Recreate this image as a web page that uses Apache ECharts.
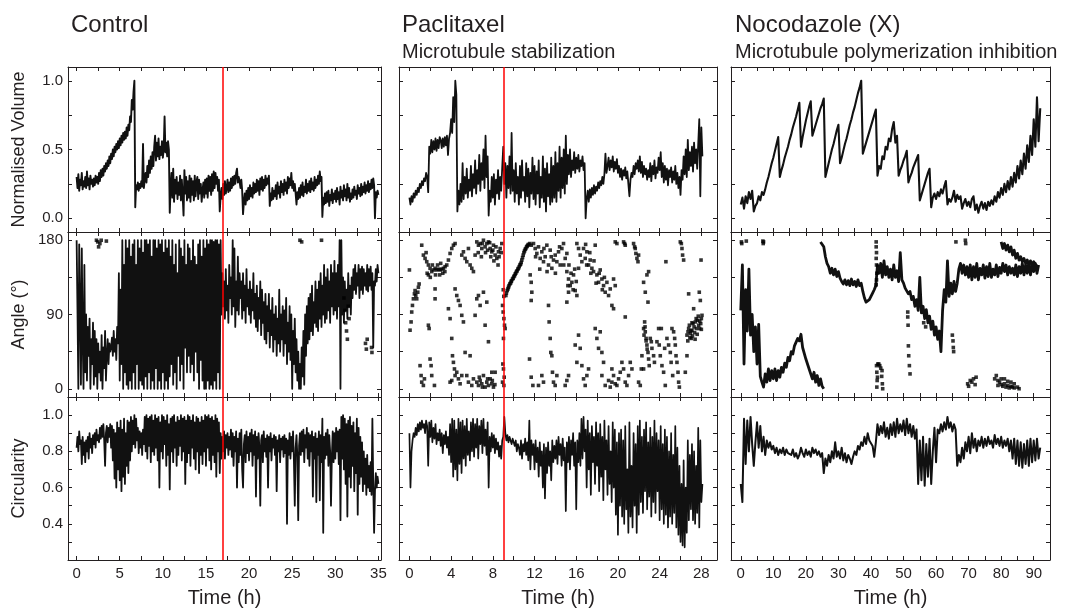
<!DOCTYPE html>
<html>
<head>
<meta charset="utf-8">
<title>Volume, angle and circularity traces</title>
<script src="https://cdn.jsdelivr.net/npm/echarts@6.0.0/dist/echarts.min.js"></script>
<style>
  html, body { margin: 0; padding: 0; background: #fff; }
  #chart { width: 1068px; height: 609px; }
</style>
</head>
<body>
<div id="chart"></div>
<script>
// tick labels
var ctrlTimeLabels = [0, 5, 10, 15, 20, 25, 30, 35];
var ctrlTimeTicks = [0, 2.5, 5, 7.5, 10, 12.5, 15, 17.5, 20, 22.5, 25, 27.5, 30, 32.5, 35];
var pacTimeLabels = [0, 4, 8, 12, 16, 20, 24, 28];
var pacTimeTicks = [0, 2, 4, 6, 8, 10, 12, 14, 16, 18, 20, 22, 24, 26, 28];
var nocTimeLabels = [0, 10, 20, 30, 40, 50, 60, 70, 80, 90];
var nocTimeTicks = [0, 5, 10, 15, 20, 25, 30, 35, 40, 45, 50, 55, 60, 65, 70, 75, 80, 85, 90];
var volLabels = [0, 0.5, 1];
var volTicks = [0, 0.25, 0.5, 0.75, 1];
var angLabels = [0, 90, 180];
var angTicks = [0, 45, 90, 135, 180];
var circLabels = [0.4, 0.6, 0.8, 1.0];
var circTicks = [0.3, 0.4, 0.5, 0.6, 0.7, 0.8, 0.9, 1.0];

// drug addition times (h)
var ctrlMark = 17;
var pacMark = 9;

// Control, sampled every 0.1 h from t = 0
var ctrlStep = 0.1;
var ctrlVol = [
  0.30,0.22,0.32,0.20,0.28,0.24,0.33,0.21,0.27,0.23,
  0.30,0.22,0.34,0.24,0.29,0.21,0.31,0.25,0.28,0.23,
  0.29,0.24,0.31,0.26,0.30,0.25,0.33,0.27,0.35,0.30,
  0.36,0.31,0.38,0.34,0.40,0.36,0.42,0.38,0.45,0.40,
  0.47,0.43,0.50,0.45,0.52,0.48,0.54,0.50,0.56,0.51,
  0.58,0.53,0.60,0.55,0.62,0.57,0.63,0.58,0.66,0.60,
  0.68,0.64,0.74,0.70,0.86,0.79,0.92,1.00,0.08,0.24,
  0.21,0.26,0.20,0.25,0.22,0.27,0.23,0.54,0.22,0.28,
  0.33,0.26,0.38,0.30,0.42,0.33,0.45,0.36,0.48,0.38,
  0.52,0.60,0.42,0.55,0.45,0.58,0.43,0.52,0.46,0.56,
  0.44,0.50,0.74,0.48,0.55,0.45,0.56,0.50,0.04,0.22,
  0.33,0.15,0.36,0.12,0.28,0.18,0.30,0.14,0.26,0.17,
  0.31,0.13,0.28,0.16,0.02,0.35,0.18,0.30,0.13,0.27,
  0.15,0.31,0.12,0.29,0.17,0.27,0.13,0.31,0.16,0.26,
  0.30,0.14,0.28,0.18,0.25,0.12,0.20,0.26,0.15,0.28,
  0.18,0.29,0.15,0.31,0.20,0.30,0.17,0.32,0.20,0.34,
  0.22,0.33,0.25,0.30,0.20,0.28,0.05,0.16,0.22,0.14,
  0.25,0.17,0.27,0.18,0.22,0.28,0.19,0.26,0.20,0.29,
  0.22,0.30,0.24,0.31,0.25,0.33,0.36,0.26,0.30,0.27,
  0.22,0.28,0.20,0.03,0.12,0.18,0.10,0.20,0.13,0.22,
  0.14,0.24,0.16,0.22,0.15,0.26,0.18,0.25,0.19,0.28,
  0.20,0.27,0.17,0.29,0.21,0.30,0.20,0.28,0.22,0.31,
  0.24,0.29,0.25,0.31,0.09,0.18,0.13,0.22,0.14,0.20,
  0.16,0.24,0.14,0.26,0.18,0.23,0.15,0.27,0.19,0.25,
  0.17,0.28,0.20,0.26,0.18,0.30,0.22,0.29,0.24,0.33,
  0.22,0.27,0.20,0.25,0.18,0.10,0.19,0.14,0.22,0.15,
  0.24,0.17,0.26,0.16,0.23,0.19,0.28,0.18,0.25,0.20,
  0.27,0.19,0.29,0.21,0.26,0.20,0.30,0.22,0.28,0.24,
  0.31,0.25,0.34,0.27,0.30,0.01,0.15,0.10,0.18,0.11,
  0.19,0.12,0.20,0.09,0.17,0.13,0.21,0.11,0.18,0.14,
  0.20,0.12,0.22,0.14,0.19,0.10,0.23,0.15,0.20,0.13,
  0.24,0.16,0.21,0.13,0.25,0.15,0.22,0.12,0.18,0.14,
  0.21,0.15,0.23,0.17,0.20,0.14,0.24,0.18,0.22,0.16,
  0.25,0.17,0.23,0.19,0.26,0.18,0.24,0.20,0.27,0.19,
  0.25,0.21,0.28,0.22,0.29,0.24,0.00,0.19,0.15,0.20,
  0.17
];
var ctrlAng = [
  180,95,0,175,100,5,170,60,0,150,
  20,90,10,75,40,85,0,60,30,80,
  5,70,15,60,0,55,20,45,10,65,
  0,50,25,70,10,40,60,30,55,45,
  50,62,40,70,45,60,35,75,55,140,
  10,120,30,180,0,150,20,180,5,170,
  0,180,10,160,0,175,20,180,0,150,
  30,180,0,170,10,180,5,165,0,180,
  15,180,0,175,20,180,0,160,10,180,
  0,180,25,170,0,180,10,175,0,180,
  20,165,0,180,10,170,0,180,15,160,
  30,180,5,150,20,175,0,140,40,180,
  10,170,30,160,0,180,50,150,20,175,
  40,170,20,155,30,180,10,160,45,150,
  20,175,0,180,35,160,10,180,0,170,
  0,180,10,175,0,180,5,180,0,178,
  10,180,0,180,20,175,0,180,90,140,
  100,130,85,145,95,125,80,150,110,135,
  90,180,100,170,75,130,95,160,90,140,
  110,130,85,140,95,125,80,145,100,120,
  90,130,80,120,95,140,85,115,75,125,
  70,110,85,130,65,120,80,105,60,115,
  55,100,70,115,50,95,65,110,45,90,
  60,100,40,85,55,120,45,90,60,100,
  40,95,55,110,30,80,45,100,35,90,
  0,70,30,85,20,60,10,45,0,30,
  0,50,15,70,5,90,40,100,55,110,
  60,115,70,125,65,105,80,130,75,120,
  70,130,85,140,75,125,90,150,80,135,
  85,145,95,130,80,150,100,140,90,155,
  95,140,85,150,100,180,0,180,90,135,
  80,130,95,120,85,140,100,125,90,135,
  110,145,120,150,115,140,125,150,110,145,
  120,148,115,145,125,140,120,150,118,145,
  125,148,120,140,50,130,125,145,130,150,
  140
];
var ctrlAngDots = [
  [2.3,180],[2.45,178],[2.55,172],[2.7,176],[2.85,180],[3.45,179],[25.9,180],[26.1,178],
  [28.4,180],[33.5,55],[33.6,48],[33.7,60],[34.2,50],[34.25,44],[31.0,110],[31.1,95],
  [31.2,80],[31.3,70],[31.4,60],[31.5,100],[31.6,85]
];
var ctrlCirc = [
  0.82,0.88,0.80,0.91,0.84,0.86,0.73,0.88,0.78,0.85,
  0.74,0.86,0.80,0.88,0.76,0.90,0.82,0.87,0.79,0.89,
  0.84,0.90,0.82,0.92,0.86,0.89,0.85,0.93,0.87,0.94,
  0.88,0.95,0.86,0.72,0.90,0.94,0.85,0.93,0.88,0.95,
  0.82,0.94,0.75,0.92,0.65,0.90,0.60,0.96,0.70,0.93,
  0.64,0.97,0.58,0.92,0.66,0.98,0.62,0.90,0.72,0.97,
  0.68,0.96,0.75,0.99,0.80,0.97,0.84,1.00,0.82,0.98,
  0.86,0.93,0.79,0.91,0.82,0.90,0.78,0.92,0.84,0.99,
  0.80,1.00,0.76,0.98,0.83,0.99,0.74,1.00,0.80,0.97,
  0.78,1.00,0.82,0.98,0.75,0.99,0.60,0.96,0.80,1.00,
  0.76,0.99,0.84,0.97,0.72,1.00,0.78,0.95,0.59,0.98,
  0.80,0.99,0.74,1.00,0.82,0.96,0.72,0.99,0.78,0.97,
  0.83,1.00,0.75,0.98,0.80,0.99,0.62,0.97,0.74,1.00,
  0.79,0.99,0.72,0.97,0.82,1.00,0.76,0.96,0.70,0.99,
  0.80,0.98,0.68,0.96,0.78,0.99,0.73,0.97,0.80,1.00,
  0.72,0.99,0.82,1.00,0.75,0.98,0.70,0.99,0.78,0.97,
  0.74,1.00,0.66,0.98,0.80,0.96,0.68,0.90,0.76,0.88,
  0.80,0.91,0.76,0.89,0.82,0.90,0.78,0.88,0.81,0.92,
  0.77,0.90,0.72,0.88,0.80,0.91,0.60,0.87,0.74,0.90,
  0.78,0.92,0.70,0.60,0.84,0.89,0.74,0.91,0.79,0.88,
  0.75,0.90,0.80,0.92,0.72,0.89,0.78,0.91,0.55,0.88,
  0.76,0.90,0.82,0.50,0.86,0.89,0.74,0.91,0.80,0.87,
  0.77,0.89,0.60,0.88,0.80,0.90,0.75,0.87,0.82,0.89,
  0.78,0.88,0.58,0.86,0.80,0.89,0.74,0.87,0.81,0.88,
  0.77,0.89,0.79,0.87,0.40,0.86,0.78,0.90,0.76,0.88,
  0.80,0.91,0.75,0.50,0.82,0.89,0.77,0.42,0.83,0.90,
  0.78,0.91,0.80,0.92,0.74,0.89,0.82,0.93,0.76,0.90,
  0.72,0.89,0.80,0.91,0.55,0.88,0.76,0.90,0.52,0.87,
  0.78,0.91,0.53,0.89,0.74,0.98,0.35,0.88,0.76,0.90,
  0.78,0.92,0.72,0.89,0.80,0.50,0.77,0.91,0.74,0.90,
  0.76,0.93,0.80,0.91,0.73,0.92,0.42,0.99,0.76,1.00,
  0.70,0.98,0.62,0.95,0.44,0.97,0.66,0.99,0.60,0.94,
  0.72,0.96,0.58,0.90,0.68,0.98,0.45,0.93,0.62,0.88,
  0.66,0.85,0.58,0.80,0.62,0.76,0.56,0.78,0.60,0.72,
  0.58,0.74,0.56,0.98,0.62,0.35,0.58,0.68,0.60,0.66,
  0.62
];

// Paclitaxel, sampled every 0.1 h from t = 0
var pacStep = 0.1;
var pacVol = [
  0.15,0.10,0.16,0.12,0.18,0.15,0.20,0.17,0.22,0.19,
  0.25,0.22,0.27,0.24,0.29,0.27,0.33,0.30,0.19,0.52,
  0.47,0.57,0.48,0.56,0.50,0.58,0.49,0.57,0.51,0.59,
  0.57,0.51,0.58,0.52,0.59,0.53,0.60,0.46,0.58,0.62,
  0.72,0.62,0.88,0.70,1.00,0.90,0.05,0.20,0.10,0.25,
  0.12,0.40,0.14,0.30,0.18,0.36,0.15,0.28,0.20,0.38,
  0.16,0.32,0.22,0.42,0.18,0.35,0.25,0.46,0.20,0.40,
  0.28,0.50,0.22,0.60,0.30,0.45,0.02,0.20,0.12,0.30,
  0.15,0.32,0.10,0.28,0.18,0.35,0.14,0.30,0.20,0.37,
  0.52,0.25,0.40,0.15,0.38,0.22,0.45,0.18,0.62,0.20,
  0.35,0.12,0.40,0.18,0.30,0.10,0.38,0.15,0.42,0.20,
  0.30,0.12,0.40,0.16,0.36,0.08,0.33,0.18,0.44,0.14,
  0.38,0.10,0.34,0.18,0.42,0.08,0.30,0.15,0.45,0.12,
  0.36,0.05,0.40,0.16,0.32,0.10,0.44,0.12,0.38,0.15,
  0.48,0.12,0.40,0.20,0.52,0.15,0.44,0.22,0.50,0.18,
  0.60,0.25,0.46,0.32,0.50,0.30,0.42,0.35,0.48,0.33,
  0.44,0.36,0.46,0.34,0.42,0.38,0.45,0.35,0.40,0.00,
  0.14,0.20,0.12,0.21,0.15,0.22,0.17,0.24,0.18,0.23,
  0.20,0.26,0.22,0.27,0.24,0.30,0.25,0.32,0.47,0.33,
  0.38,0.44,0.35,0.42,0.37,0.45,0.34,0.41,0.36,0.43,
  0.33,0.38,0.30,0.36,0.28,0.35,0.31,0.37,0.29,0.34,
  0.25,0.16,0.28,0.33,0.30,0.38,0.32,0.40,0.36,0.42,
  0.34,0.45,0.33,0.41,0.30,0.38,0.32,0.36,0.28,0.35,
  0.30,0.40,0.27,0.38,0.32,0.42,0.29,0.37,0.33,0.44,
  0.35,0.48,0.30,0.40,0.26,0.38,0.28,0.36,0.24,0.35,
  0.30,0.37,0.26,0.34,0.28,0.38,0.25,0.33,0.22,0.30,
  0.17,0.35,0.28,0.45,0.32,0.50,0.30,0.57,0.35,0.48,
  0.38,0.52,0.34,0.55,0.40,0.50,0.36,0.54,0.72,0.16,
  0.66,0.45
];
var pacAngle = [
  [0.0,144],[0.06,71],[0.16,81],[0.22,93],[0.29,101],[0.38,109],[0.48,115],[0.54,119],[0.61,113],[0.7,109],
  [0.8,117],[0.86,123],[0.93,127],[1.02,28],[1.12,16],[1.18,8],[1.18,174],[1.34,4],[1.44,12],
  [1.34,162],[1.5,158],[1.66,154],[1.82,150],[1.82,138],[1.98,146],[2.14,142],[2.3,144],[2.46,146],[2.62,144],
  [2.78,145],[2.94,144],[3.1,145],[3.26,146],[3.42,148],[3.58,150],[3.74,156],[3.9,164],[4.06,170],[4.22,174],[4.38,176],
  [1.6,165],[1.7,140],[2.0,135],[2.2,150],[2.5,138],[2.7,150],[2.9,138],[3.0,152],[3.2,140],[3.4,142],
  [1.82,77],[1.89,73],[1.98,36],[2.08,28],[2.14,16],[2.4,4],[2.46,121],[2.46,109],
  [3.74,97],[3.9,85],[4.06,61],[4.13,40],[4.22,32],[4.32,24],[4.38,16],[3.9,8],[4.06,10],
  [4.38,121],[4.54,113],[4.7,107],[4.86,101],[5.02,89],[5.18,81],[4.54,20],[4.7,12],[4.86,6],[5.02,16],
  [5.02,162],[5.18,166],[5.34,158],[5.5,154],[5.66,170],[5.82,150],[5.98,146],[6.14,142],[6.3,162],
  [5.5,16],[5.66,8],[5.98,4],[6.14,12],[5.82,40],[5.34,44],[6.3,89],[6.46,109],
  [6.46,178],[6.62,174],[6.78,176],[6.94,170],[7.1,180],[7.26,172],[7.42,176],[7.58,178],[7.74,170],[7.9,166],
  [8.06,174],[8.22,162],[8.38,158],[8.54,166],[8.7,170],[8.86,176],
  [6.6,165],[6.9,160],[7.0,176],[7.3,165],[7.5,168],[7.7,177],[7.8,160],[8.0,168],[8.1,155],[8.3,172],
  [8.5,150],[8.6,160],[8.8,165],
  [6.46,8],[6.62,4],[6.78,10],[6.94,6],[7.1,16],[7.26,2],[7.42,8],[7.58,4],[7.74,12],[7.9,6],[8.06,2],
  [6.7,14],[7.0,2],[7.5,12],[7.95,10],[8.2,5],
  [6.62,113],[6.78,101],[7.1,117],[7.42,105],[7.26,77],[7.58,57],[7.9,20],[8.22,20],
  [8.93,101],[8.99,93],[9.06,85],[9.12,77],[9.18,73],[9.02,61],[8.96,30],[9.02,24],[9.09,14],[8.93,8],
  [9.06,4],[9.0,120],[9.05,112],
  [9.25,113],[9.38,119],[9.5,123],[9.63,127],[9.76,130],[9.89,133],[10.02,136],[10.14,139],[10.27,142],
  [10.4,145],[10.53,148],[10.66,151],[10.78,156],[10.91,162],[11.04,167],[11.17,170],[11.3,173],[11.42,175],
  [11.55,176],[11.68,174],
  [9.3,116],[9.45,121],[9.55,125],[9.7,128],[9.8,131],[9.95,134],[10.08,137],[10.2,140],[10.33,143],
  [10.46,146],[10.6,150],[10.72,153],[10.85,159],[10.98,165],[11.1,169],[11.24,172],[11.36,174],
  [11.58,138],[11.68,129],[11.74,117],[11.68,107],[11.52,36],[11.68,14],[11.84,4],
  [11.9,176],[12.06,170],[12.22,164],[12.38,172],[12.54,158],[12.7,166],[12.86,154],[13.02,160],[13.18,174],
  [13.34,150],[13.5,168],[13.66,146],[13.82,156],[13.98,162],[14.14,154],[14.3,166],[14.46,150],[14.62,170],
  [14.78,176],[14.94,158],[15.1,164],
  [12.1,160],[12.5,145],[12.9,170],[13.2,142],[13.6,160],[14.0,140],[14.4,172],[14.8,150],
  [12.7,16],[12.86,8],[12.38,4],[13.34,101],[13.4,81],[13.5,61],[13.56,44],[13.66,40],[13.72,20],[13.82,8],
  [13.98,4],[14.14,16],
  [15.1,142],[15.26,133],[15.42,125],[15.58,129],[15.74,138],[15.9,119],[16.06,113],[16.22,146],[15.1,105],
  [15.26,117],[16.22,170],[16.38,162],[16.54,154],[16.06,176],
  [15.3,150],[15.5,140],[15.7,120],[15.85,145],[16.0,130],[15.2,125],
  [14.94,4],[15.1,10],[15.26,16],[15.9,53],[16.06,32],[16.22,65],[16.38,49],[16.54,28],[16.7,12],[16.86,4],
  [17.02,16],[17.18,24],
  [16.7,170],[16.86,158],[17.02,166],[17.18,150],[17.34,156],[17.5,146],[17.66,142],[17.82,174],[17.98,138],
  [18.14,129],[18.3,144],[18.46,133],[18.62,125],[18.78,117],[18.94,129],[19.1,113],[19.26,121],[19.42,101],
  [17.0,150],[17.4,140],[17.7,155],[17.9,128],[18.2,140],[18.5,120],[18.7,135],[16.9,175],[17.3,165],
  [17.82,73],[17.98,61],[18.14,49],[18.3,69],[18.46,44],[18.62,32],[18.46,16],[18.78,4],[19.1,10],[19.26,2],
  [19.42,8],
  [19.58,133],[19.74,125],[19.58,97],[19.74,178],[19.9,176],[20.54,178],[20.64,176],[20.7,174],[19.42,24],
  [19.58,16],[19.74,6],[19.9,4],[20.06,12],[20.22,20],[20.38,32],[20.54,24],[20.7,8],[20.86,4],[21.02,16],
  [20.7,87],
  [21.18,32],[21.34,24],[21.5,176],[21.6,172],[21.66,170],[21.72,164],[21.82,158],[21.92,154],[21.98,162],
  [22.14,4],[21.98,8],[22.24,24],[22.3,40],
  [22.46,129],[22.62,117],[22.78,138],[22.94,142],[22.88,105],[22.46,73],[22.56,81],[22.62,69],[22.7,61],
  [22.78,53],[22.88,44],[22.94,36],[23.0,28],[23.1,61],[23.2,57],[23.26,49],[23.42,40],[23.5,32],[22.46,24],
  [22.5,65],[22.6,75],[22.7,58],[22.8,48],
  [23.74,57],[23.9,73],[23.96,53],[24.06,40],[24.16,73],[24.22,28],[24.38,20],[24.48,49],[24.54,4],[24.6,154],
  [24.7,61],[24.86,53],[25.02,44],[25.18,73],[25.1,32],[25.25,16],
  [25.34,69],[25.44,61],[25.5,53],[25.57,40],[25.66,32],[25.76,20],[25.82,8],[25.89,2],[25.98,178],[26.08,176],
  [26.14,170],[26.2,162],[26.3,156],[26.46,20],
  [26.62,65],[26.72,69],[26.78,73],[26.85,77],[26.94,67],[27.04,61],[27.1,71],[27.2,79],[27.3,75],[27.42,81],
  [27.52,73],[27.62,83],[27.74,77],[27.84,73],[27.94,79],[28.0,85],[28.06,89],[26.78,115],[27.26,97],
  [27.8,117],[27.9,107],[27.97,156],[26.62,40],
  [26.7,58],[26.9,62],[27.0,70],[27.15,64],[27.35,68],[27.5,85],[27.6,66],[27.7,88],[27.85,82],[28.0,72],
  [27.4,60],[27.1,80]
];
var pacCirc = [
  0.90,0.60,0.80,0.86,0.90,0.88,0.93,0.89,0.95,0.91,
  0.96,0.92,0.97,0.93,0.95,0.90,0.97,0.94,0.72,0.96,
  0.88,0.97,0.85,0.93,0.87,0.95,0.84,0.90,0.86,0.92,
  0.83,0.90,0.79,0.89,0.84,0.91,0.82,0.88,0.78,0.95,
  0.74,0.98,0.66,0.97,0.70,0.92,0.64,0.98,0.73,0.96,
  0.68,0.97,0.76,0.94,0.72,0.98,0.78,0.91,0.75,0.96,
  0.80,0.98,0.77,0.95,0.82,0.98,0.76,0.94,0.84,0.97,
  0.79,0.98,0.83,0.92,0.78,0.96,0.60,0.88,0.80,0.90,
  0.82,0.89,0.79,0.87,0.81,0.85,0.77,0.83,0.76,0.86,
  0.88,0.99,0.90,0.86,0.89,0.85,0.88,0.86,0.84,0.87,
  0.85,0.83,0.86,0.80,0.84,0.82,0.78,0.86,0.76,0.84,
  0.80,0.87,0.78,0.85,0.75,0.97,0.70,0.86,0.78,0.84,
  0.70,0.86,0.74,0.82,0.66,0.85,0.72,0.80,0.60,0.84,
  0.54,0.82,0.68,0.85,0.72,0.80,0.64,0.86,0.74,0.83,
  0.76,0.86,0.73,0.88,0.78,0.84,0.72,0.87,0.75,0.82,
  0.47,0.85,0.74,0.88,0.70,0.86,0.78,0.90,0.72,0.85,
  0.48,0.86,0.74,0.90,0.72,0.98,0.76,0.99,0.80,0.92,
  0.60,0.97,0.70,0.90,0.56,0.94,0.74,0.88,0.62,0.96,
  0.72,0.90,0.58,0.95,0.66,0.88,0.53,0.97,0.70,0.86,
  0.56,0.94,0.62,0.80,0.52,0.96,0.60,0.92,0.45,0.85,
  0.34,0.90,0.50,0.92,0.44,0.86,0.40,0.94,0.48,0.70,
  0.35,0.96,0.44,0.72,0.38,0.90,0.50,0.84,0.35,0.94,
  0.45,0.97,0.52,0.88,0.46,0.92,0.58,0.96,0.48,0.85,
  0.55,0.93,0.44,0.88,0.52,0.97,0.46,0.90,0.58,0.86,
  0.42,0.94,0.48,0.84,0.40,0.92,0.45,0.88,0.38,0.80,
  0.44,0.90,0.40,0.78,0.46,0.94,0.38,0.82,0.34,0.72,
  0.30,0.62,0.28,0.75,0.27,0.60,0.35,0.86,0.42,0.78,
  0.48,0.84,0.42,0.80,0.40,0.72,0.46,0.93,0.38,0.86,
  0.52,0.62
];

// Nocodazole, sampled every 0.5 h from t = 0
var nocStep = 0.5;
var nocVol = [
  0.10,0.15,0.07,0.16,0.11,0.19,0.14,0.20,0.05,0.09,
  0.11,0.16,0.13,0.19,0.17,0.21,0.26,0.30,0.35,0.40,
  0.44,0.49,0.54,0.59,0.30,0.35,0.39,0.44,0.48,0.52,
  0.57,0.61,0.66,0.70,0.74,0.79,0.84,0.52,0.59,0.65,
  0.71,0.76,0.81,0.85,0.60,0.64,0.68,0.72,0.76,0.80,
  0.83,0.87,0.30,0.35,0.40,0.45,0.50,0.54,0.59,0.64,
  0.68,0.40,0.44,0.49,0.54,0.58,0.63,0.68,0.72,0.77,
  0.81,0.86,0.91,0.95,1.00,0.47,0.51,0.55,0.59,0.63,
  0.67,0.71,0.75,0.79,0.31,0.38,0.36,0.45,0.43,0.52,
  0.50,0.58,0.56,0.65,0.70,0.55,0.60,0.31,0.35,0.38,
  0.42,0.45,0.49,0.26,0.30,0.33,0.37,0.40,0.43,0.46,
  0.13,0.17,0.21,0.25,0.29,0.33,0.36,0.08,0.15,0.18,
  0.14,0.19,0.16,0.21,0.18,0.23,0.27,0.10,0.14,0.12,
  0.15,0.20,0.12,0.17,0.14,0.16,0.07,0.11,0.14,0.09,
  0.12,0.08,0.14,0.16,0.06,0.10,0.04,0.09,0.12,0.07,
  0.11,0.06,0.12,0.09,0.13,0.10,0.16,0.12,0.19,0.15,
  0.22,0.17,0.25,0.19,0.27,0.21,0.30,0.23,0.33,0.26,
  0.38,0.29,0.42,0.32,0.47,0.36,0.53,0.41,0.60,0.46,
  0.72,0.52,0.88,0.56,0.80
];
// angle tracks: low one from t = 0, upper from t = 24.5, top one from t = 80
var nocAngLow = [
  95,150,30,120,70,145,65,90,45,75,
  30,78,15,8,2,18,8,24,10,22,
  12,24,10,22,14,26,20,31,26,38,
  34,45,42,52,50,61,58,66,50,48,
  36,34,24,22,12,20,8,16,4,12,
  3,0
];
var nocAngUpStart = 24.5;
var nocAngUp = [
  178,180,172,160,152,148,140,146,138,145,
  136,142,134,130,127,132,126,131,125,133,
  126,130,124,132,125,128,118,110,105,104,
  108,112,116,120,125,150,140,152,135,155,
  138,148,135,145,132,150,135,143,130,165,
  132,128,122,120,115,118,108,112,100,108,
  95,135,92,100,85,96,80,88,72,82,
  65,75,60,70,45,95,120,105,155,112,
  128,115,130,118,128,145,152,140,150,138,
  148,135,150,132,148,135,152,132,146,138,
  150,134,148,136,152,135,145,138,150,136,
  147,140,152,142,150,138,148,140,146,138,
  150,136,148,140,152,138,150,140,152,138,
  150,142,152,140,150
];
var nocAngHighStart = 80;
var nocAngHigh = [
  178,170,176,168,174,166,172,162,168,158,164,156,
  160,154,158,152,156,150,155,150,154,150,152,148
];
var nocAngDots = [
  [0.2,178],[0.3,176],[1.7,179],[6.8,179],[6.9,176],[7.0,178],
  [41.6,178],[41.6,172],[41.7,165],[41.6,158],[41.7,150],[41.8,140],[41.7,132],[41.6,126],
  [41.7,28],[41.8,20],[41.9,10],[41.8,2],[42.1,30],[42.4,30],[42.7,28],[43.0,25],[43.3,15],[43.5,6],
  [43.6,0],[42.0,14],[43.4,22],
  [51.3,93],[51.3,87],[51.4,77],[51.5,52],[51.6,40],[51.8,28],[52.0,18],
  [56.2,80],[56.8,75],[65.0,65],[65.2,58],[65.3,50],[65.4,45],[66.1,178],[69.0,180],[69.1,176],
  [69.7,6],[70.0,3],[70.5,10],[71.0,8],[71.5,12],[72.0,5],[72.3,14],
  [78.0,12],[78.5,16],[79.0,10],[79.5,8],[80.0,5],[80.5,3],[81.0,6],[81.5,2],[82.0,4],[82.5,1],
  [83.0,3],[83.5,2],[84.0,1],[85.0,2],[85.5,0],[79,4],[80,12],[81,12],[82,9],[83,8],[84,6]
];
var nocCirc = [
  0.62,0.52,0.98,0.73,0.97,0.80,0.99,0.84,0.72,0.85,
  0.96,0.82,0.94,0.80,0.88,0.78,0.86,0.82,0.85,0.81,
  0.83,0.79,0.82,0.78,0.81,0.79,0.82,0.78,0.81,0.79,
  0.80,0.78,0.81,0.77,0.79,0.76,0.78,0.82,0.79,0.77,
  0.81,0.78,0.80,0.77,0.82,0.79,0.81,0.78,0.80,0.77,
  0.79,0.68,0.76,0.72,0.78,0.74,0.80,0.76,0.85,0.77,
  0.80,0.76,0.82,0.75,0.79,0.74,0.78,0.76,0.73,0.77,
  0.80,0.78,0.83,0.81,0.85,0.83,0.88,0.84,0.90,0.86,
  0.86,0.83,0.77,0.85,0.95,0.89,0.94,0.90,0.96,0.88,
  0.93,0.87,0.95,0.89,0.96,0.88,0.98,0.90,0.95,0.91,
  0.97,0.89,0.98,0.90,0.95,0.88,0.94,0.87,0.92,0.62,
  0.86,0.64,0.88,0.61,0.84,0.66,0.87,0.62,0.80,0.93,
  0.74,0.92,0.90,0.95,0.91,0.96,0.92,0.99,0.93,0.96,
  0.91,0.95,0.92,0.72,0.78,0.74,0.82,0.76,0.85,0.80,
  0.88,0.79,0.90,0.82,0.87,0.80,0.86,0.83,0.88,0.82,
  0.87,0.83,0.88,0.84,0.86,0.82,0.89,0.84,0.87,0.83,
  0.88,0.82,0.86,0.83,0.87,0.80,0.86,0.76,0.87,0.73,
  0.86,0.72,0.85,0.71,0.84,0.73,0.86,0.72,0.87,0.74,
  0.86,0.75,0.87,0.76,0.82
];

function timed(values, t0, step) {
  return values.map(function (v, i) {
    return [Math.round((t0 + i * step) * 100) / 100, v];
  });
}

var font = '"Liberation Sans", Arial, Helvetica, sans-serif';
var ink = '#231f20';
var traceInk = '#111111';
var red = '#ff0000';

var cols = [
  { left: 68, width: 313, min: -1, max: 35.3, ticks: ctrlTimeTicks, labels: ctrlTimeLabels },
  { left: 399, width: 318, min: -1, max: 29.5, ticks: pacTimeTicks, labels: pacTimeLabels },
  { left: 731, width: 319, min: -3, max: 95, ticks: nocTimeTicks, labels: nocTimeLabels }
];
var rows = [
  { top: 67, height: 165, min: -0.1, max: 1.1, ticks: volTicks, labels: volLabels, digits: 1, name: 'Normalised Volume' },
  { top: 232, height: 165, min: -10, max: 190, ticks: angTicks, labels: angLabels, digits: 0, name: 'Angle (°)' },
  { top: 397, height: 164, min: 0.2, max: 1.1, ticks: circTicks, labels: circLabels, digits: 1, name: 'Circularity' }
];

var grids = [], xAxes = [], yAxes = [];
rows.forEach(function (r, ri) {
  cols.forEach(function (c, ci) {
    var g = grids.length;
    grids.push({ left: c.left, top: r.top, width: c.width, height: r.height, containLabel: false });
    ['bottom', 'top'].forEach(function (pos) {
      var bottomRow = ri === 2 && pos === 'bottom';
      xAxes.push({
        type: 'value', gridIndex: g, position: pos, min: c.min, max: c.max,
        axisLine: { show: true, onZero: false, lineStyle: { color: ink, width: 1 } },
        axisTick: { show: true, inside: true, length: 4, customValues: c.ticks, lineStyle: { color: ink } },
        axisLabel: {
          show: bottomRow, customValues: c.labels, margin: 6,
          fontFamily: font, fontSize: 15, color: ink
        },
        splitLine: { show: false },
        name: bottomRow ? 'Time (h)' : '',
        nameLocation: 'middle', nameGap: 28,
        nameTextStyle: { fontFamily: font, fontSize: 20, color: ink }
      });
    });
    ['left', 'right'].forEach(function (pos) {
      var leftCol = ci === 0 && pos === 'left';
      yAxes.push({
        type: 'value', gridIndex: g, position: pos, min: r.min, max: r.max,
        axisLine: { show: true, onZero: false, lineStyle: { color: ink, width: 1 } },
        axisTick: { show: true, inside: true, length: 4, customValues: r.ticks, lineStyle: { color: ink } },
        axisLabel: {
          show: leftCol, customValues: r.labels, margin: 5,
          fontFamily: font, fontSize: 15, color: ink,
          formatter: function (v) { return Number(v).toFixed(r.digits); }
        },
        splitLine: { show: false },
        name: leftCol ? r.name : '',
        nameLocation: 'middle', nameGap: 40,
        nameTextStyle: { fontFamily: font, fontSize: 18, color: ink }
      });
    });
  });
});

function onGrid(g, s) {
  s.xAxisIndex = g * 2;
  s.yAxisIndex = g * 2;
  s.animation = false;
  s.silent = true;
  return s;
}
function trace(g, data, width) {
  return onGrid(g, {
    type: 'line', data: data, showSymbol: false, symbol: 'none',
    lineStyle: { color: traceInk, width: width || 1.7, join: 'round' }, z: 2
  });
}
function dots(g, data, size) {
  return onGrid(g, {
    type: 'scatter', data: data, symbol: 'rect', symbolSize: size || 3.6,
    itemStyle: { color: '#000000' }, z: 2
  });
}
function marker(g, t) {
  return onGrid(g, {
    type: 'line', data: [], z: 10,
    markLine: {
      silent: true, symbol: ['none', 'none'], animation: false, z: 10,
      label: { show: false },
      lineStyle: { color: red, width: 1.5, type: 'solid', opacity: 1 },
      emphasis: { disabled: true },
      data: [{ xAxis: t }]
    }
  });
}

var series = [
  trace(0, timed(ctrlVol, 0, ctrlStep), 1.9),
  trace(1, timed(pacVol, 0, pacStep), 1.8),
  trace(2, timed(nocVol, 0, nocStep), 2.1),
  trace(3, timed(ctrlAng, 0, ctrlStep), 1.8),
  dots(3, ctrlAngDots, 3.6),
  dots(4, pacAngle, 3.6),
  trace(5, timed(nocAngLow, 0, nocStep), 2.8),
  trace(5, timed(nocAngUp, nocAngUpStart, nocStep), 2.8),
  trace(5, timed(nocAngHigh, nocAngHighStart, nocStep), 2.8),
  dots(5, nocAngDots, 3.6),
  trace(6, timed(ctrlCirc, 0, ctrlStep), 1.8),
  trace(7, timed(pacCirc, 0, pacStep), 1.7),
  trace(8, timed(nocCirc, 0, nocStep), 2.0)
];
[0, 3, 6].forEach(function (g) { series.push(marker(g, ctrlMark)); });
[1, 4, 7].forEach(function (g) { series.push(marker(g, pacMark)); });

var titleStyle = { fontFamily: font, fontSize: 24, fontWeight: 'normal', color: ink };
var subStyle = { fontFamily: font, fontSize: 20, fontWeight: 'normal', color: ink };

var chart = echarts.init(document.getElementById('chart'), null, { renderer: 'canvas' });
chart.setOption({
  backgroundColor: '#ffffff',
  animation: false,
  title: [
    { text: 'Control', left: 66, top: 8, textStyle: titleStyle },
    { text: 'Paclitaxel', left: 397, top: 8, textStyle: titleStyle },
    { text: 'Nocodazole (X)', left: 730, top: 8, textStyle: titleStyle },
    { text: 'Microtubule stabilization', left: 397, top: 37, textStyle: subStyle },
    { text: 'Microtubule polymerization inhibition', left: 730, top: 37, textStyle: subStyle }
  ],
  grid: grids,
  xAxis: xAxes,
  yAxis: yAxes,
  series: series
});
</script>
</body>
</html>
